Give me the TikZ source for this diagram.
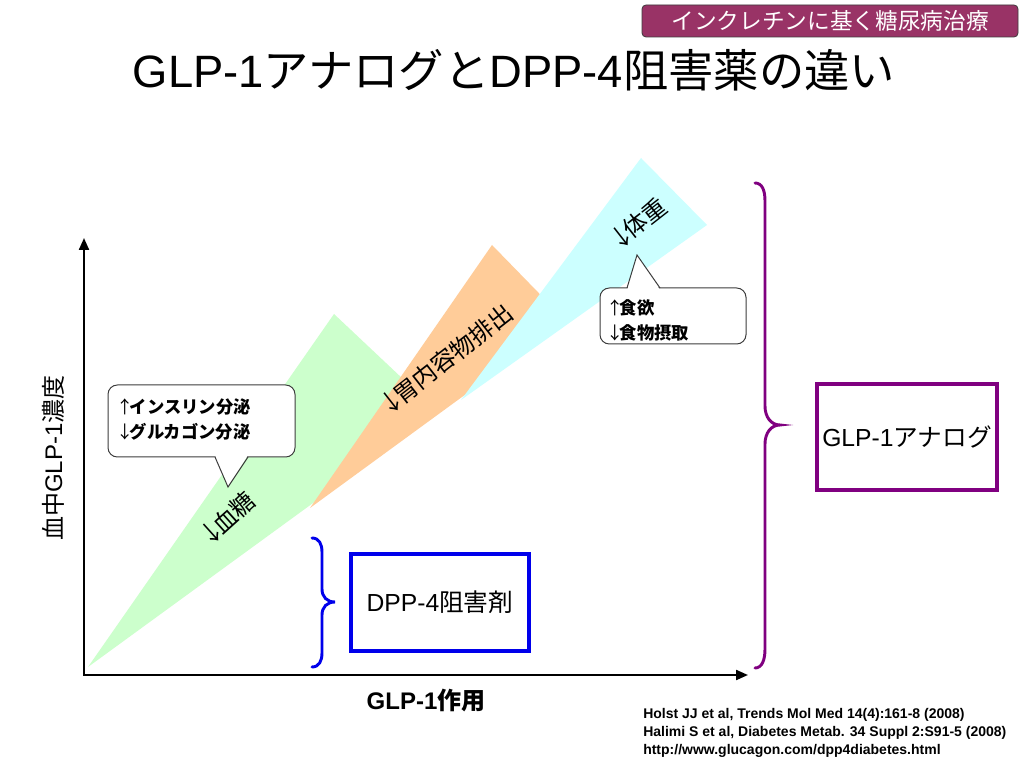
\documentclass[tikz,border=0pt]{standalone}
\usepackage{fontspec}
\setmainfont{Liberation Sans}
\newfontfamily\jp{Noto Sans CJK JP}
\usetikzlibrary{arrows.meta}
\newcommand\uparr{\makebox[0.55em]{\jp\mdseries ↑}}
\newcommand\dnarr{\makebox[0.55em]{\jp\mdseries ↓}}
\definecolor{plum}{RGB}{153,51,102}
\definecolor{greenfill}{RGB}{204,255,204}
\definecolor{orangefill}{RGB}{255,204,153}
\definecolor{cyanfill}{RGB}{204,255,255}
\definecolor{purp}{RGB}{128,0,128}
\definecolor{bblue}{RGB}{0,0,235}
\definecolor{edgegray}{RGB}{60,60,60}
\tikzset{
  axisline/.style={line width=1.6pt, {Triangle[length=9pt,width=7.5pt]}-{Triangle[length=9pt,width=7.5pt]}},
  calloutbox/.style={draw=edgegray, line width=0.75pt, fill=white, rounded corners=7pt, inner sep=0pt},
  calloutline/.style={draw=edgegray, line width=0.75pt},
  callouttext/.style={align=left, inner sep=0pt, font=\fontsize{13}{18.75}\selectfont\bfseries},
  difflabel/.style={inner sep=0pt, font=\fontsize{18}{22}\selectfont},
  bracestyle/.style={line width=2.2pt, line cap=round},
  drugbox/.style={line width=2.6pt, fill=white, inner sep=0pt, font=\fontsize{18.5}{22}\selectfont},
}
\begin{document}
\begin{tikzpicture}[x=0.75pt,y=0.75pt]
\useasboundingbox (0,0) rectangle (1024,768);
\fill[white] (0,0) rectangle (1024,768);

% header tag
\node[draw=edgegray, line width=0.6pt, fill=plum, rounded corners=3pt, text=white,
      minimum width=282pt, minimum height=24pt, inner sep=0pt,
      font=\fontsize{17}{20}\selectfont\jp] (tag) at (830,747) {インクレチンに基く糖尿病治療};

% title
\node[inner sep=0pt, font=\fontsize{34}{40}\selectfont] (title) at (514,698)
  {GLP-1{\jp アナログと}DPP-4{\jp 阻害薬の違い}};

% wedges
\fill[greenfill] (88,101) -- (334,454) -- (438,356) -- cycle;
\fill[orangefill] (310,260) -- (492,523) -- (566,447) -- cycle;
\fill[cyanfill] (461,368) -- (641,610) -- (707,543) -- cycle;

% wedge labels
\node[difflabel, rotate=42] (bg) at (229,251) {\dnarr{\jp 血糖}};
\node[difflabel, rotate=38] (ge) at (448,410) {\dnarr{\jp 胃内容物排出}};
\node[difflabel, rotate=38] (bw) at (640,546) {\dnarr{\jp 体重}};

% axes
\coordinate (O) at (84,93);
\coordinate (Ytop) at (84,530);
\coordinate (Xend) at (748,93);
\draw[axisline] (Ytop) -- (O) -- (Xend);
\node[rotate=90, inner sep=0pt, font=\fontsize{18}{22}\selectfont] (ylab) at (53,310) {{\jp 血中}GLP-1{\jp 濃度}};
\node[inner sep=0pt, font=\fontsize{18}{22}\selectfont\bfseries] (xlab) at (426,68) {GLP-1{\jp 作用}};

% left callout
\node[calloutbox, minimum width=140.25pt, minimum height=54pt] (cL) at (201.5,347) {};
\coordinate (cLa) at (215,311);
\coordinate (cLb) at (248,311);
\coordinate (cLtip) at (228,281);
\fill[white] ([yshift=1.5]cLa) -- (cLtip) -- ([yshift=1.5]cLb) -- cycle;
\draw[calloutline] (cLa) -- (cLtip) -- (cLb);
\node[callouttext, anchor=west] (cLt) at (120,348.5) {\uparr{\jp インスリン分泌}\\\dnarr{\jp グルカゴン分泌}};

% right callout
\node[calloutbox, minimum width=109.5pt, minimum height=42pt] (cR) at (673,452) {};
\coordinate (cRa) at (627,480);
\coordinate (cRb) at (660,480);
\coordinate (cRtip) at (637,513);
\fill[white] ([yshift=-1.5]cRa) -- (cRtip) -- ([yshift=-1.5]cRb) -- cycle;
\draw[calloutline] (cRa) -- (cRtip) -- (cRb);
\node[callouttext, anchor=west] (cRt) at (610,447.5) {\uparr{\jp 食欲}\\\dnarr{\jp 食物摂取}};

% blue brace and box
\draw[bracestyle, bblue] (312,230) .. controls (319,230) and (322,224) .. (322,216)
  -- (322,179) .. controls (322,171) and (327,166) .. (335,166)
  .. controls (327,166) and (322,161) .. (322,153)
  -- (322,115) .. controls (322,107) and (319,101) .. (312,101);
\node[drugbox, draw=bblue, minimum width=133.5pt, minimum height=72.75pt] (dpp) at (440,165.5)
  {DPP-4{\jp 阻害剤}};

% purple brace and box
\draw[bracestyle, purp] (755,585) .. controls (762,585) and (765,578) .. (765,567)
  -- (765,362) .. controls (765,351) and (771,343) .. (780,343)
  .. controls (771,343) and (765,335) .. (765,324)
  -- (765,119) .. controls (765,108) and (762,100) .. (755,100);
\node[drugbox, draw=purp, minimum width=135pt, minimum height=79.5pt] (glp) at (907,331)
  {GLP-1{\jp アナログ}};

% references
\node[anchor=west, align=left, inner sep=0pt, font=\fontsize{10.5}{13.2}\selectfont\bfseries] (refs) at (643,35)
  {Holst JJ et al, Trends Mol Med 14(4):161-8 (2008)\\Halimi S et al, Diabetes Metab. 34 Suppl 2:S91-5 (2008)\\http://www.glucagon.com/dpp4diabetes.html};
\end{tikzpicture}
\end{document}
